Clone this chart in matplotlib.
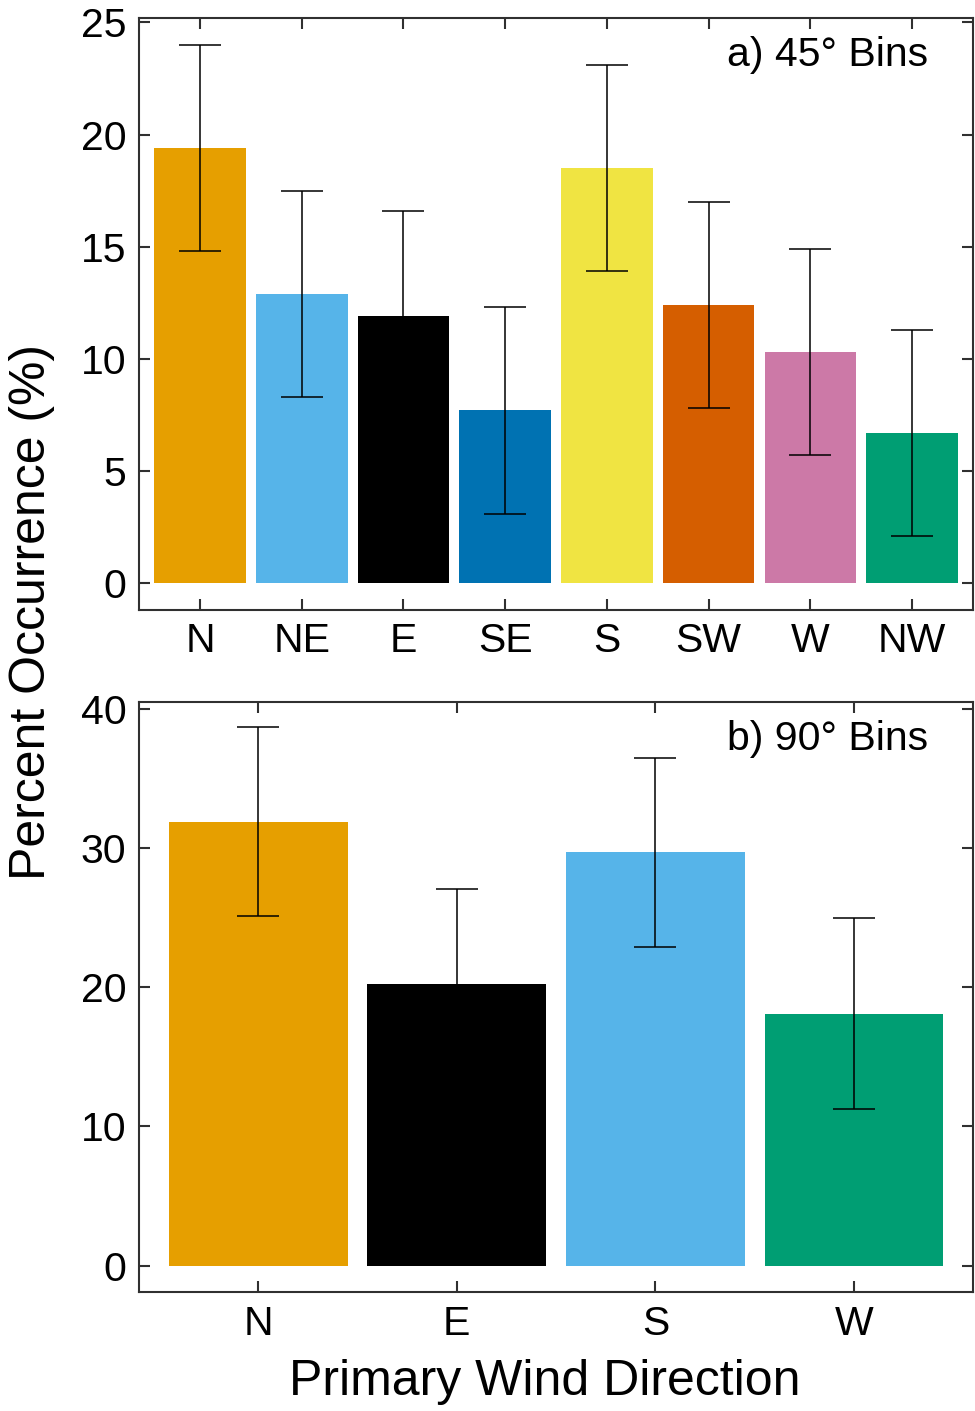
import numpy as np
import matplotlib
matplotlib.use("Agg")
import matplotlib.pyplot as plt

plt.rcParams['font.family'] = ['Liberation Sans', 'DejaVu Sans']

# 45 degree bins
dirs45 = ['N', 'NE', 'E', 'SE', 'S', 'SW', 'W', 'NW']
pct45 = [19.4, 12.9, 11.9, 7.7, 18.5, 12.4, 10.3, 6.7]
err45 = [4.6, 4.6, 4.7, 4.6, 4.6, 4.6, 4.6, 4.6]
col45 = ['#E69F00', '#56B4E9', '#000000', '#0072B2',
         '#F0E442', '#D55E00', '#CC79A7', '#009E73']

# 90 degree bins
dirs90 = ['N', 'E', 'S', 'W']
pct90 = [31.9, 20.2, 29.7, 18.1]
err90 = [6.8, 6.85, 6.8, 6.85]
col90 = ['#E69F00', '#000000', '#56B4E9', '#009E73']

spine_col = '#303030'
fs_tick = 29.5
fs_lab = 36

fig = plt.figure(figsize=(9.75, 14.11), dpi=100)
ax1 = fig.add_axes([0.1426, 0.5677, 0.8554, 0.4196])
ax2 = fig.add_axes([0.1426, 0.0843, 0.8554, 0.4182])


def draw(ax, labels, vals, errs, cols, ylim, yticks, tag):
    x = np.arange(len(labels))
    ax.bar(x, vals, width=0.9, color=cols, zorder=1)
    ax.errorbar(x, vals, yerr=errs, fmt='none', ecolor='black',
                elinewidth=1.1, capsize=15, capthick=1.1, zorder=2)
    ax.set_xlim(-0.6, len(labels) - 0.4)
    ax.set_ylim(*ylim)
    ax.set_xticks(x)
    ax.set_xticklabels(labels)
    ax.set_yticks(yticks)
    ax.tick_params(direction='in', length=8, width=1.5, color=spine_col,
                   labelsize=fs_tick, pad=9, top=True, right=True)
    for s in ax.spines.values():
        s.set_linewidth(1.5)
        s.set_color(spine_col)
    ax.text(0.946, 0.938, tag, transform=ax.transAxes, ha='right',
            va='center', fontsize=fs_tick)


draw(ax1, dirs45, pct45, err45, col45, (-1.2, 25.2), [0, 5, 10, 15, 20, 25],
     'a) 45° Bins')
draw(ax2, dirs90, pct90, err90, col90, (-1.9, 40.5), [0, 10, 20, 30, 40],
     'b) 90° Bins')

fig.text(0.033, 0.566, 'Percent Occurrence (%)', rotation=90,
         ha='center', va='center', fontsize=fs_lab)
fig.text(0.559, 0.0206, 'Primary Wind Direction', ha='center',
         va='center', fontsize=fs_lab)

fig.savefig('out.png', dpi=100)
